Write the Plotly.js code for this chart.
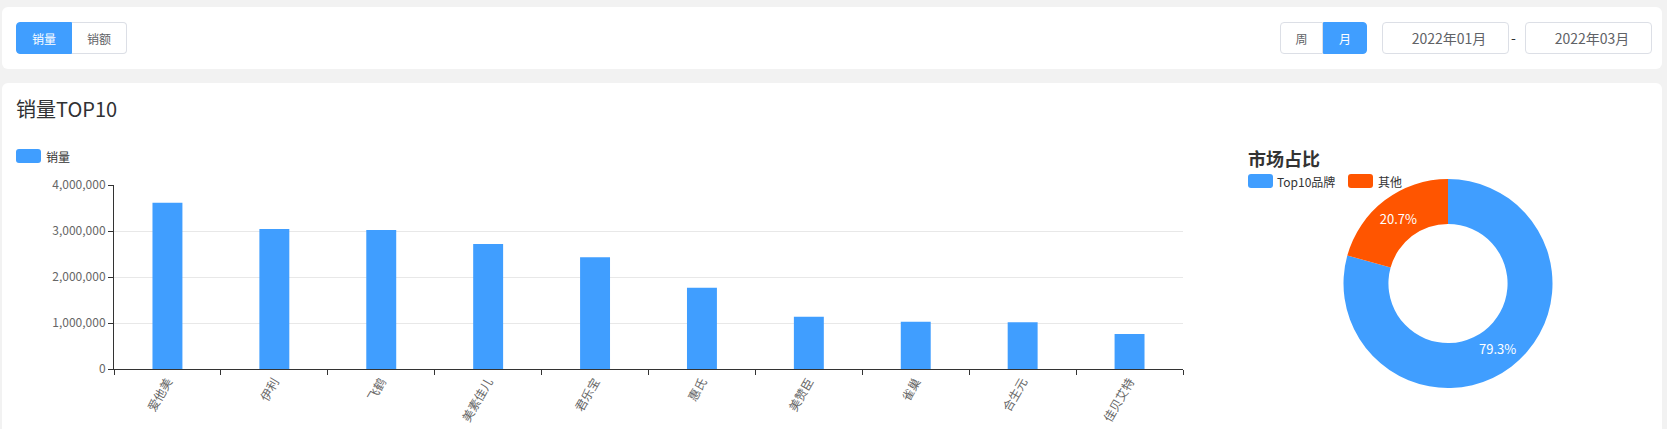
<!DOCTYPE html>
<html>
<head>
<meta charset="utf-8">
<script src="https://cdn.plot.ly/plotly-3.0.1.min.js"></script>
<style>
  body{margin:0;width:1667px;height:429px;overflow:hidden;position:relative;background:#f2f2f2;font-family:"Noto Sans CJK SC","Noto Sans",sans-serif;}
  .card{position:absolute;background:#fff;border-radius:6px;}
  .btn{position:absolute;top:22px;height:32px;box-sizing:border-box;border:1px solid #dcdfe6;background:#fff;color:#606266;font-size:12px;display:flex;align-items:center;justify-content:center;}
  .btn.on{background:#409eff;border-color:#409eff;color:#fff;}
  .date{position:absolute;top:22px;height:32px;width:127px;box-sizing:border-box;border:1px solid #dcdfe6;border-radius:4px;color:#606266;font-size:14px;display:flex;align-items:center;justify-content:center;padding-left:7px;}
  #chart{position:absolute;left:0;top:0;width:1667px;height:429px;}
</style>
</head>
<body>
<div class="card" style="left:2px;top:7px;width:1660px;height:62px;"></div>
<div class="card" style="left:2px;top:83px;width:1660px;height:380px;"></div>

<div class="btn on" style="left:16px;width:56px;border-radius:4px 0 0 4px;">销量</div>
<div class="btn" style="left:72px;width:55px;border-left:none;border-radius:0 4px 4px 0;">销额</div>
<div class="btn" style="left:1280px;width:43px;border-radius:4px 0 0 4px;">周</div>
<div class="btn on" style="left:1323px;width:44px;border-radius:0 4px 4px 0;">月</div>
<div class="date" style="left:1382px;">2022年01月</div>
<div style="position:absolute;left:1511px;top:27px;font-size:14px;color:#303133;">-</div>
<div class="date" style="left:1525px;">2022年03月</div>

<div id="chart"></div>

<script>
// sales volume of the top 10 brands
const brands = ['爱他美', '伊利', '飞鹤', '美素佳儿', '君乐宝', '惠氏', '美赞臣', '雀巢', '合生元', '佳贝艾特'];
const salesVolume = [3616000, 3043000, 3022000, 2717000, 2428000, 1768000, 1138000, 1029000, 1014000, 761000];

// market share
const shareLabels = ['Top10品牌', '其他'];
const shareValues = [79.3, 20.7];

const BLUE = '#409eff', ORANGE = '#ff5500';
const W = 1667, H = 429;
function px(x){ return x / W; }
function py(y){ return 1 - y / H; }
function roundRect(x0, y0, x1, y1, r){
  return 'M' + px(x0 + r) + ',' + py(y0) +
    ' L' + px(x1 - r) + ',' + py(y0) + ' Q' + px(x1) + ',' + py(y0) + ' ' + px(x1) + ',' + py(y0 + r) +
    ' L' + px(x1) + ',' + py(y1 - r) + ' Q' + px(x1) + ',' + py(y1) + ' ' + px(x1 - r) + ',' + py(y1) +
    ' L' + px(x0 + r) + ',' + py(y1) + ' Q' + px(x0) + ',' + py(y1) + ' ' + px(x0) + ',' + py(y1 - r) +
    ' L' + px(x0) + ',' + py(y0 + r) + ' Q' + px(x0) + ',' + py(y0) + ' ' + px(x0 + r) + ',' + py(y0) + ' Z';
}
function legendBox(x0, y0, color){
  return { type:'path', xref:'paper', yref:'paper', path: roundRect(x0, y0, x0 + 25, y0 + 14, 3), fillcolor: color, line:{ width:0 } };
}
function label(text, x, y, size, color, bold){
  return { text: bold ? '<b>' + text + '</b>' : text, xref:'paper', yref:'paper', x: px(x), y: py(y), xanchor:'left', yanchor:'middle',
    showarrow:false, font:{ size: size, color: color } };
}

const bars = {
  type:'bar', x: brands, y: salesVolume, marker:{ color: BLUE }, hoverinfo:'none', showlegend:false
};
const donut = {
  type:'pie', labels: shareLabels, values: shareValues, hole: 0.57, sort:false, direction:'clockwise', rotation:0,
  domain:{ x:[px(1343), px(1553)], y:[py(388), py(179)] },
  marker:{ colors:[BLUE, ORANGE], line:{ width:0 } },
  texttemplate:'%{percent:.1%}', textposition:'inside', insidetextorientation:'horizontal',
  textfont:{ color:'#fff', size:13 }, hoverinfo:'none', showlegend:false
};

const layout = {
  width: W, height: H, margin:{ l:0, r:0, t:0, b:0 },
  paper_bgcolor:'rgba(0,0,0,0)', plot_bgcolor:'rgba(0,0,0,0)',
  font:{ family:'"Noto Sans CJK SC", "Noto Sans", sans-serif', size:12, color:'#666' },
  bargap: 0.72,
  xaxis:{ domain:[px(114), px(1183)], type:'category', tickangle:-60, tickson:'boundaries', ticks:'outside', ticklen:5,
    tickcolor:'#333', showline:true, linecolor:'#333', linewidth:1, showgrid:false, tickfont:{ size:12, color:'#666' }, fixedrange:true },
  yaxis:{ domain:[py(369), py(185)], range:[0, 4000000], dtick:1000000, tickformat:',', ticks:'outside', ticklen:5,
    tickcolor:'#333', showline:true, linecolor:'#333', linewidth:1, gridcolor:'#e8e8e8', zeroline:false,
    tickfont:{ size:12, color:'#666' }, fixedrange:true },
  shapes:[ legendBox(16, 149, BLUE), legendBox(1248, 174, BLUE), legendBox(1348, 174, ORANGE) ],
  annotations:[
    label('销量TOP10', 14, 108, 20, '#303133', false),
    label('销量', 44, 156, 12, '#333', false),
    label('市场占比', 1246, 158, 18, '#333', true),
    label('Top10品牌', 1275, 181, 12, '#333', false),
    label('其他', 1376, 181, 12, '#333', false)
  ]
};

Plotly.newPlot('chart', [bars, donut], layout, { displayModeBar:false, staticPlot:true });
</script>
</body>
</html>
